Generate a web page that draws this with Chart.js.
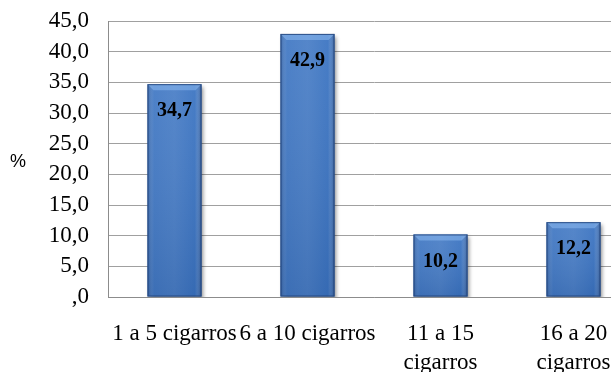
<!DOCTYPE html>
<html>
<head>
<meta charset="utf-8">
<script src="https://cdn.jsdelivr.net/npm/chart.js@4/dist/chart.umd.min.js"></script>
<style>
  html, body { margin: 0; padding: 0; background: #fff; overflow: hidden; }
  #wrap { width: 645px; height: 372px; }
</style>
</head>
<body>
<div id="wrap"><canvas id="c" width="645" height="372"></canvas></div>
<script>
// Cigarettes smoked per day (%)
const categories = ['1 a 5 cigarros', '6 a 10 cigarros', ['11 a 15', 'cigarros'], ['16 a 20', 'cigarros']];
const values = [34.7, 42.9, 10.2, 12.2];
const yTicks = [0, 5, 10, 15, 20, 25, 30, 35, 40, 45];

const fmt = v => {
  const s = v.toFixed(1).replace('.', ',');
  return s.startsWith('0,') ? s.slice(1) : s;
};

const SERIF = '"Liberation Serif", "Times New Roman", serif';

// Shadow under the bars
const barShadow = {
  id: 'barShadow',
  beforeDatasetDraw(chart) {
    const ctx = chart.ctx;
    ctx.save();
    ctx.shadowColor = 'rgba(0,0,0,0.45)';
    ctx.shadowBlur = 4;
    ctx.shadowOffsetX = 2;
    ctx.shadowOffsetY = 3;
  },
  afterDatasetDraw(chart) {
    chart.ctx.restore();
  }
};

// Bevel shading on each bar and value labels inside the top
const barBevel = {
  id: 'barBevel',
  afterDatasetsDraw(chart) {
    const ctx = chart.ctx;
    const meta = chart.getDatasetMeta(0);
    meta.data.forEach((bar, i) => {
      const { x, y, base, width } = bar.getProps(['x', 'y', 'base', 'width'], true);
      const l = x - width / 2, r = x + width / 2, t = y, b = base;
      const bv = 6;
      ctx.save();
      // horizontal shading
      const g = ctx.createLinearGradient(l, 0, r, 0);
      g.addColorStop(0, 'rgba(20,50,100,0.35)');
      g.addColorStop(0.12, 'rgba(255,255,255,0.04)');
      g.addColorStop(0.5, 'rgba(255,255,255,0.08)');
      g.addColorStop(0.88, 'rgba(255,255,255,0.0)');
      g.addColorStop(1, 'rgba(20,45,90,0.45)');
      ctx.fillStyle = g;
      ctx.fillRect(l, t, width, b - t);
      // vertical shading, slightly darker towards the base
      const gv = ctx.createLinearGradient(0, t, 0, b);
      gv.addColorStop(0, 'rgba(255,255,255,0.06)');
      gv.addColorStop(1, 'rgba(10,30,70,0.12)');
      ctx.fillStyle = gv;
      ctx.fillRect(l, t, width, b - t);
      // top bevel
      ctx.beginPath();
      ctx.moveTo(l, t); ctx.lineTo(r, t); ctx.lineTo(r - bv, t + bv); ctx.lineTo(l + bv, t + bv); ctx.closePath();
      ctx.fillStyle = 'rgba(140,185,240,0.55)';
      ctx.fill();
      // outline
      ctx.strokeStyle = 'rgba(35,70,125,0.9)';
      ctx.lineWidth = 1;
      ctx.strokeRect(l + 0.5, t + 0.5, width - 1, b - t - 1);
      // value label
      ctx.fillStyle = '#000';
      ctx.font = 'bold 20px ' + SERIF;
      ctx.textAlign = 'center';
      ctx.textBaseline = 'middle';
      ctx.fillText(fmt(values[i]), x, t + 27);
      ctx.restore();
    });
  }
};

// "%" marker at the left of the value axis
const percentLabel = {
  id: 'percentLabel',
  afterDraw(chart) {
    const ctx = chart.ctx;
    ctx.save();
    ctx.fillStyle = '#000';
    ctx.font = '18px "Liberation Sans", Arial, sans-serif';
    ctx.textAlign = 'center';
    ctx.textBaseline = 'middle';
    ctx.fillText('%', 18, 162);
    ctx.restore();
  }
};

new Chart(document.getElementById('c'), {
  type: 'bar',
  data: {
    labels: categories,
    datasets: [{
      data: values,
      backgroundColor: '#3b74c2',
      borderWidth: 0,
      categoryPercentage: 1,
      barPercentage: 0.406
    }]
  },
  options: {
    responsive: false,
    animation: false,
    events: [],
    layout: { padding: { top: 21, right: 5, left: 0, bottom: 0 } },
    plugins: { legend: { display: false }, tooltip: { enabled: false } },
    scales: {
      x: {
        grid: { display: false, drawTicks: false },
        border: { display: true, color: '#8c8c8c', width: 1 },
        ticks: {
          color: '#000',
          font: { family: SERIF, size: 23, lineHeight: 1.26 },
          padding: 22,
          maxRotation: 0,
          minRotation: 0,
          autoSkip: false
        },
        afterFit(s) { s.height = 75; s.paddingLeft = 0; s.paddingRight = 0; }
      },
      y: {
        min: 0,
        max: 45,
        afterBuildTicks(s) { s.ticks = yTicks.map(v => ({ value: v })); },
        grid: { color: '#a0a0a0', lineWidth: 1, drawTicks: false },
        border: { display: true, color: '#8c8c8c', width: 1 },
        ticks: {
          color: '#000',
          font: { family: SERIF, size: 23, lineHeight: 1 },
          padding: 19,
          autoSkip: false,
          callback: v => fmt(v)
        },
        afterFit(s) { s.width = 108; s.paddingTop = 0; s.paddingBottom = 0; }
      }
    }
  },
  plugins: [barShadow, barBevel, percentLabel]
});
</script>
</body>
</html>
